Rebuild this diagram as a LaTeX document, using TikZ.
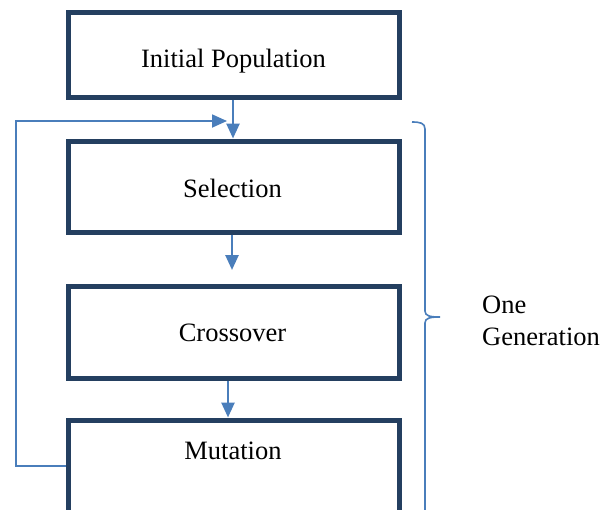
\documentclass[tikz,border=0pt]{standalone}
\usepackage{fontspec}
\setmainfont{Liberation Serif}
\usetikzlibrary{arrows.meta}
\definecolor{boxc}{HTML}{243F60}
\definecolor{linec}{HTML}{4A7EBB}
\tikzset{
  stagebox/.style={draw=boxc, line width=5pt, minimum width=331pt, inner sep=0pt},
  txt/.style={font=\fontsize{26.5}{32}\selectfont, inner sep=0pt, anchor=base},
  flow/.style={draw=linec, line width=2.6pt, -{Triangle[length=15pt,width=13pt]}},
  back/.style={draw=linec, line width=1.8pt, -{Triangle[length=15pt,width=13pt]}},
  bracec/.style={draw=linec, line width=1.6pt}
}
\begin{document}
\begin{tikzpicture}[x=1pt,y=-1pt]
\useasboundingbox (0,0) rectangle (610,509);
\clip (0,0) rectangle (610,509);
\node[stagebox, minimum height=85pt] (init) at (233.5,54.5) {};
\node[stagebox, minimum height=91pt] (sel) at (233.5,186.5) {};
\node[stagebox, minimum height=92pt] (cro) at (233.5,332) {};
\node[stagebox, minimum height=92pt] (mut) at (233.5,466) {};
\node[txt] (initt) at (233.5,67) {Initial Population};
\node[txt] (selt) at (232.5,197) {Selection};
\node[txt] (crot) at (232.5,341) {Crossover};
\node[txt] (mutt) at (233,459) {Mutation};
% arrows
\draw[flow] (init.south -| 233,0) -- (sel.north -| 233,0);
\coordinate (a2) at (232,270);
\draw[flow] (sel.south -| 232,0) -- (a2);
\draw[flow] (cro.south -| 228,0) -- (mut.north -| 228,0);
% feedback
\coordinate (fb) at (227,121);
\draw[back] (mut.west) -- (16,466) -- (16,121) -- (fb);
% brace
\coordinate (bt) at (412,122);
\draw[bracec] (bt) .. controls (420,122) and (425,123) .. (425,129)
  -- (425,311) .. controls (425,316) and (430,317) .. (440,317)
  .. controls (430,317) and (425,318) .. (425,323) -- (425,530);
\node[txt, anchor=base west] (one) at (482,313) {One};
\node[txt, anchor=base west] (gen) at (482,345) {Generation};
\end{tikzpicture}
\end{document}
